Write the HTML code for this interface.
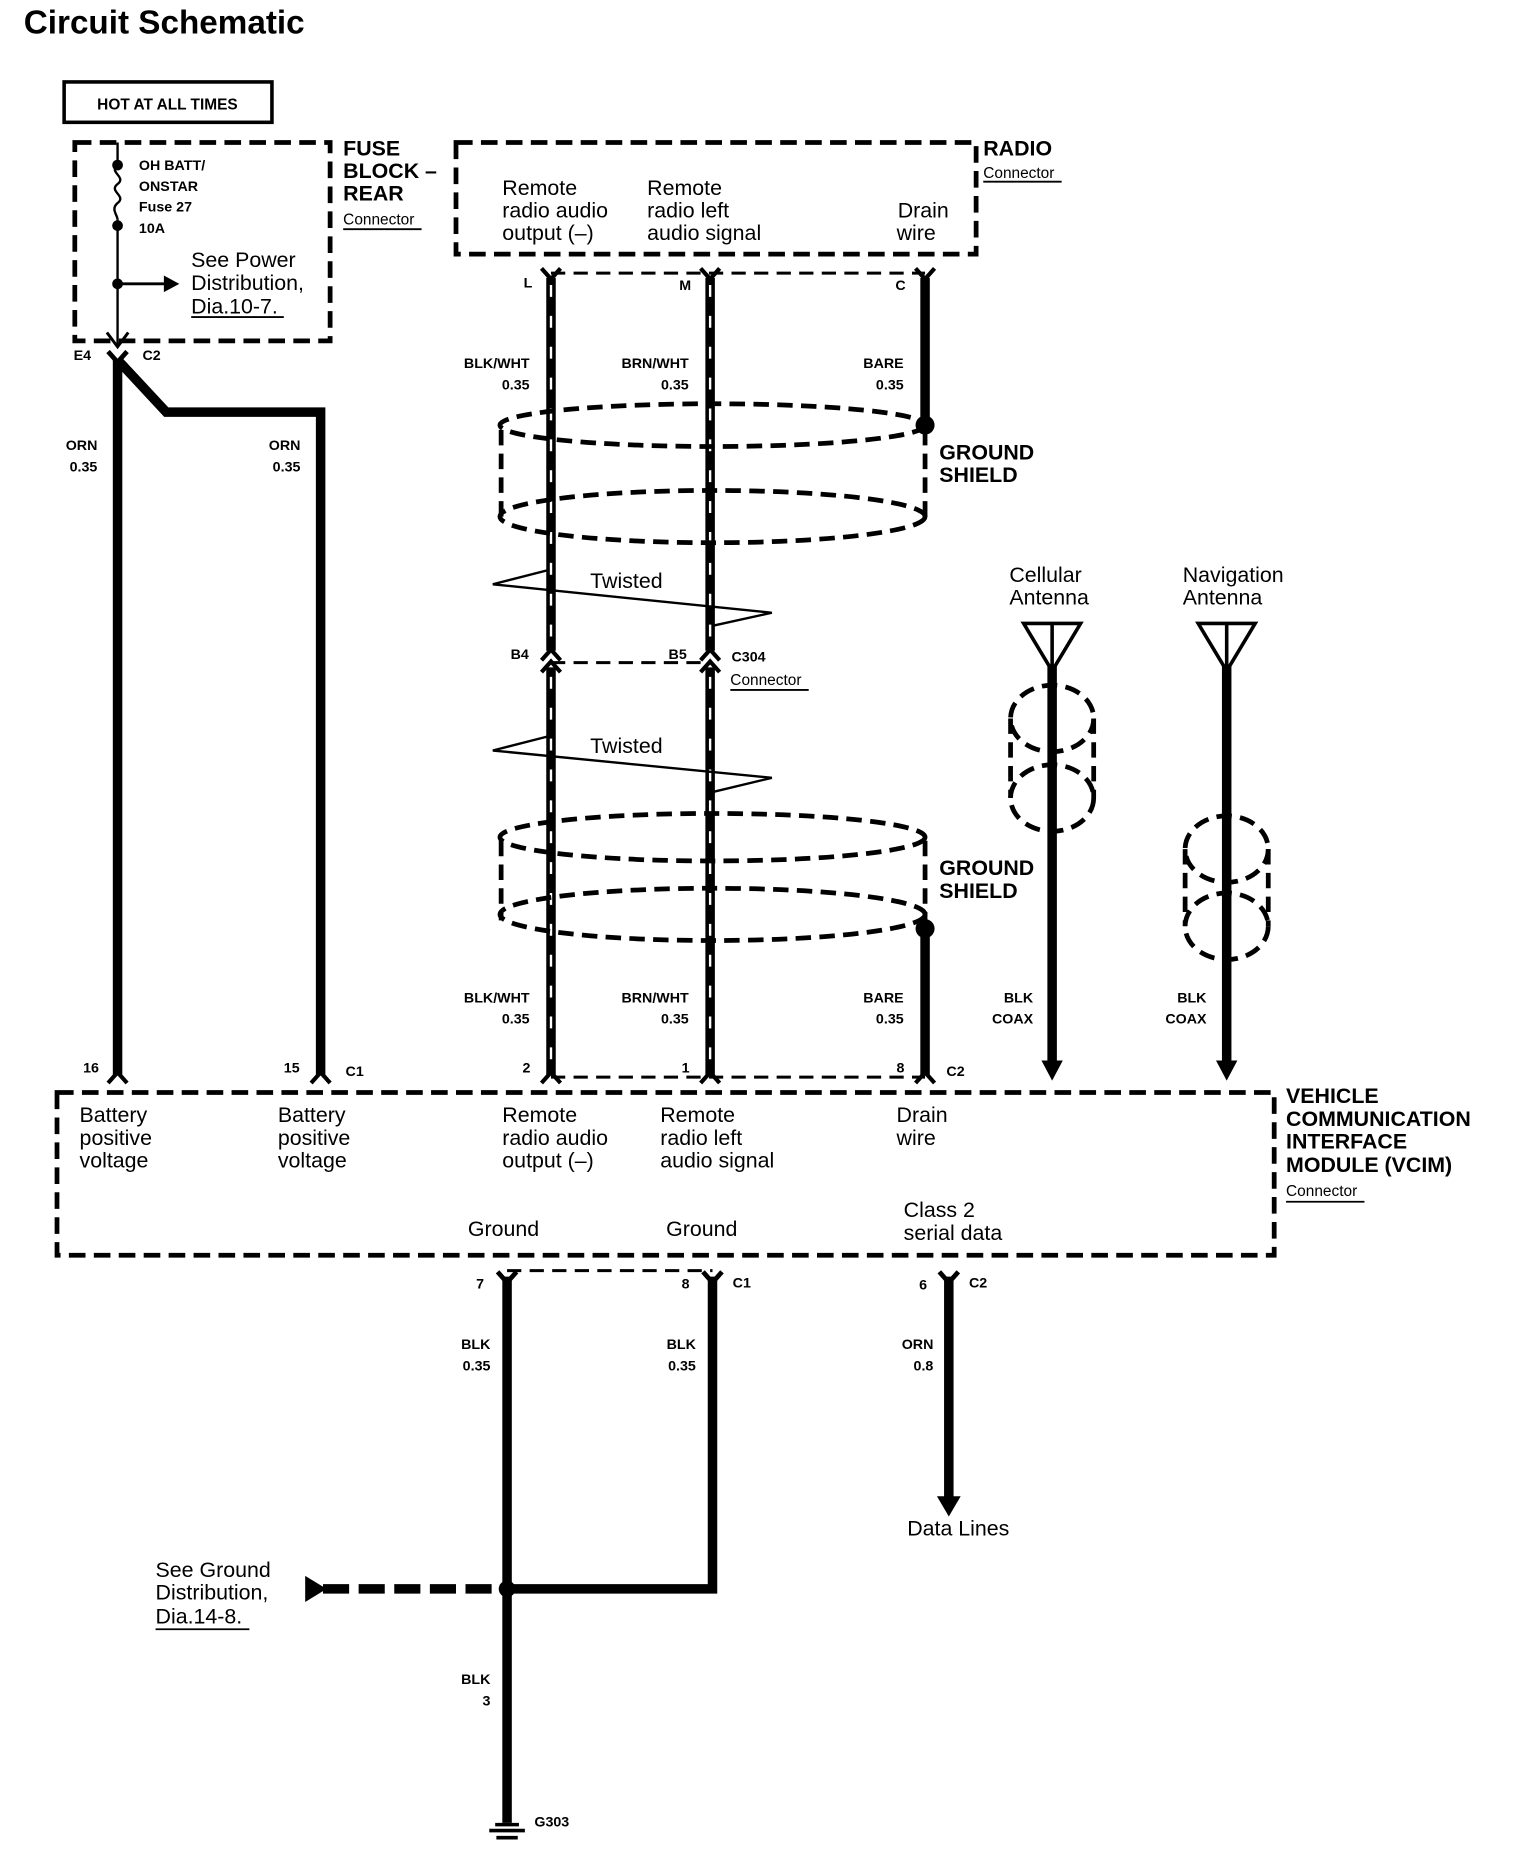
<!DOCTYPE html>
<html><head><meta charset="utf-8"><style>
html,body{margin:0;padding:0;background:#fff}
svg{display:block}
text{font-family:"Liberation Sans",Arial,sans-serif;fill:#000}
.b{font-weight:bold}
.s{font-size:12px;font-weight:bold}
.m{font-size:18px}
.h{font-size:18px;font-weight:bold}
.c{font-size:13px}
</style></head><body>
<svg width="1520" height="1858" viewBox="0 0 1280 1564.6" preserveAspectRatio="none" xmlns="http://www.w3.org/2000/svg">
<g fill="none" stroke="#000">
<text x="20" y="28" style="font-size:28px;font-weight:bold;stroke:none">Circuit Schematic</text>
<rect x="54" y="69" width="175" height="34" stroke-width="3"/>
<!-- fuse block -->
<rect x="63" y="120" width="215" height="167" stroke-width="4" stroke-dasharray="14 7"/>
<path d="M99 120V139M99 185V292" stroke-width="2"/>
<path d="M99 139c-8 6 8 10 0 16c-8 6 8 10 0 16c-6 5 0 10 0 14" stroke-width="2"/>
<path d="M99 239H140" stroke-width="2.5"/>
<path d="M90 280L99 292L108 280" stroke-width="2.5"/>
<!-- radio box -->
<rect x="384" y="120" width="438" height="94" stroke-width="4" stroke-dasharray="14 7"/>
<!-- vcim box -->
<rect x="48" y="920" width="1025" height="137" stroke-width="4" stroke-dasharray="14 7"/>
<!-- ORN wires -->
<path d="M99 303V905M99 303L140 347H270V905" stroke-width="8" stroke-linejoin="miter"/>
<!-- radio wires -->
<path d="M464 234V548M598 234V548M464 562V905M598 562V905" stroke-width="8"/>
<path d="M464 240V548M598 240V548M464 570V900M598 570V900" stroke="#fff" stroke-width="2" stroke-dasharray="10 16"/>
<path d="M779 234V358M779 782V905" stroke-width="8"/>
<path d="M464 230H779M464 558H598M464 907H779M427 1070H600" stroke-width="2.5" stroke-dasharray="12 7"/>
<!-- forks -->
<path d="M456 226L464 235L472 226M590 226L598 235L606 226M771 226L779 235L787 226" stroke-width="3.5"/>
<path d="M91 296L99 305L107 296" stroke-width="4"/>
<path d="M456 556L464 547L472 556M590 556L598 547L606 556M456 566L464 557L472 566M590 566L598 557L606 566" stroke-width="3.5"/>
<path d="M91 912L99 903L107 912M262 912L270 903L278 912M456 912L464 903L472 912M590 912L598 903L606 912M771 912L779 903L787 912" stroke-width="3.5"/>
<path d="M419 1071L427 1080L435 1071M592 1071L600 1080L608 1071M791 1071L799 1080L807 1071" stroke-width="4"/>
<!-- shields -->
<g stroke-width="4" stroke-dasharray="13 7">
<ellipse cx="600" cy="358" rx="179" ry="18"/>
<ellipse cx="600" cy="435" rx="179" ry="22"/>
<path d="M422 362V440M779 362V440"/>
<ellipse cx="600" cy="705" rx="179" ry="20"/>
<ellipse cx="600" cy="770" rx="179" ry="22"/>
<path d="M422 708V775M779 708V775"/>
<ellipse cx="886" cy="605" rx="35" ry="28"/>
<ellipse cx="886" cy="672" rx="35" ry="28"/>
<path d="M851 605V672M921 605V672"/>
<ellipse cx="1033" cy="715" rx="35" ry="28"/>
<ellipse cx="1033" cy="780" rx="35" ry="28"/>
<path d="M998 715V780M1068 715V780"/>
</g>
<!-- twisted -->
<path d="M462 480L415 492L650 516L600 527M462 620L415 632L650 655L600 667" stroke-width="2"/>
<!-- antennas -->
<path d="M886 560V895M1033 560V895" stroke-width="8"/>
<path d="M862 525H910L886 565Z M886 525V560M1009 525H1057L1033 565Z M1033 525V560" stroke-width="3" stroke-linejoin="miter"/>
<!-- bottom wires -->
<path d="M427 1075V1535M600 1075V1338H427M799 1075V1262" stroke-width="8"/>
<path d="M272 1338H420" stroke-width="8" stroke-dasharray="22 8"/>
<!-- underlines -->
<path d="M289 193H355M828 153H894M161 267H239M615 581H681M1083 1012H1149M131 1372H210" stroke-width="1.5"/>
</g>
<g fill="#000">
<circle cx="99" cy="139" r="4.5"/><circle cx="99" cy="190" r="4.5"/><circle cx="99" cy="239" r="4.5"/>
<path d="M138 232L151 239L138 246Z"/>
<circle cx="779" cy="358" r="8"/><circle cx="779" cy="782" r="8"/>
<circle cx="427" cy="1338" r="7"/>
<path d="M257 1327L275 1338L257 1349Z"/>
<path d="M877 893H895L886 910Z M1024 893H1042L1033 910Z M789 1260H809L799 1277Z"/>
<path d="M417 1535H437L437 1538H417Z M412 1540h30v3h-30z M418 1546h18v3h-18z"/>
</g>
<g>
<text x="141" y="92" text-anchor="middle" style="font-size:13px;font-weight:bold">HOT AT ALL TIMES</text>
<text class="s" x="117" y="143">OH  BATT/</text>
<text class="s" x="117" y="161">ONSTAR</text>
<text class="s" x="117" y="178">Fuse 27</text>
<text class="s" x="117" y="196">10A</text>
<text class="m" x="161" y="225">See Power</text>
<text class="m" x="161" y="244">Distribution,</text>
<text class="m" x="161" y="264">Dia.10-7.</text>
<text class="h" x="289" y="131">FUSE</text>
<text class="h" x="289" y="150">BLOCK –</text>
<text class="h" x="289" y="169">REAR</text>
<text class="c" x="289" y="189">Connector</text>
<text class="h" x="828" y="131">RADIO</text>
<text class="c" x="828" y="150">Connector</text>
<text class="m" x="423" y="164">Remote</text><text class="m" x="423" y="183">radio audio</text><text class="m" x="423" y="202">output (–)</text>
<text class="m" x="545" y="164">Remote</text><text class="m" x="545" y="183">radio left</text><text class="m" x="545" y="202">audio signal</text>
<text class="m" x="799" y="183" text-anchor="end">Drain</text><text class="m" x="788" y="202" text-anchor="end">wire</text>
<text class="s" x="62" y="303">E4</text><text class="s" x="120" y="303">C2</text>
<text class="s" x="441" y="242">L</text><text class="s" x="572" y="244">M</text><text class="s" x="754" y="244">C</text>
<g text-anchor="end" class="s">
<text x="82" y="379">ORN</text><text x="82" y="397">0.35</text>
<text x="253" y="379">ORN</text><text x="253" y="397">0.35</text>
<text x="446" y="310">BLK/WHT</text><text x="446" y="328">0.35</text>
<text x="580" y="310">BRN/WHT</text><text x="580" y="328">0.35</text>
<text x="761" y="310">BARE</text><text x="761" y="328">0.35</text>
<text x="446" y="844">BLK/WHT</text><text x="446" y="862">0.35</text>
<text x="580" y="844">BRN/WHT</text><text x="580" y="862">0.35</text>
<text x="761" y="844">BARE</text><text x="761" y="862">0.35</text>
<text x="870" y="844">BLK</text><text x="870" y="862">COAX</text>
<text x="1016" y="844">BLK</text><text x="1016" y="862">COAX</text>
<text x="413" y="1136">BLK</text><text x="413" y="1154">0.35</text>
<text x="586" y="1136">BLK</text><text x="586" y="1154">0.35</text>
<text x="786" y="1136">ORN</text><text x="786" y="1154">0.8</text>
<text x="413" y="1418">BLK</text><text x="413" y="1436">3</text>
</g>
<text class="h" x="791" y="387">GROUND</text><text class="h" x="791" y="406">SHIELD</text>
<text class="h" x="791" y="737">GROUND</text><text class="h" x="791" y="756">SHIELD</text>
<text class="m" x="497" y="495">Twisted</text>
<text class="m" x="497" y="634">Twisted</text>
<text class="s" x="430" y="555">B4</text><text class="s" x="563" y="555">B5</text><text class="s" x="616" y="557">C304</text>
<text class="c" x="615" y="577">Connector</text>
<text class="m" x="850" y="490">Cellular</text><text class="m" x="850" y="509">Antenna</text>
<text class="m" x="996" y="490">Navigation</text><text class="m" x="996" y="509">Antenna</text>
<text class="s" x="70" y="903">16</text><text class="s" x="239" y="903">15</text><text class="s" x="291" y="906">C1</text>
<text class="s" x="440" y="903">2</text><text class="s" x="574" y="903">1</text><text class="s" x="755" y="903">8</text><text class="s" x="797" y="906">C2</text>
<text class="m" x="67" y="945">Battery</text><text class="m" x="67" y="964">positive</text><text class="m" x="67" y="983">voltage</text>
<text class="m" x="234" y="945">Battery</text><text class="m" x="234" y="964">positive</text><text class="m" x="234" y="983">voltage</text>
<text class="m" x="423" y="945">Remote</text><text class="m" x="423" y="964">radio audio</text><text class="m" x="423" y="983">output (–)</text>
<text class="m" x="556" y="945">Remote</text><text class="m" x="556" y="964">radio left</text><text class="m" x="556" y="983">audio signal</text>
<text class="m" x="755" y="945">Drain</text><text class="m" x="755" y="964">wire</text>
<text class="m" x="394" y="1041">Ground</text><text class="m" x="561" y="1041">Ground</text>
<text class="m" x="761" y="1025">Class 2</text><text class="m" x="761" y="1044">serial data</text>
<text class="h" x="1083" y="929">VEHICLE</text><text class="h" x="1083" y="948">COMMUNICATION</text><text class="h" x="1083" y="967">INTERFACE</text><text class="h" x="1083" y="987">MODULE (VCIM)</text>
<text class="c" x="1083" y="1007">Connector</text>
<text class="s" x="401" y="1085">7</text><text class="s" x="574" y="1085">8</text><text class="s" x="617" y="1084">C1</text>
<text class="s" x="774" y="1086">6</text><text class="s" x="816" y="1084">C2</text>
<text class="m" x="764" y="1293">Data Lines</text>
<text class="m" x="131" y="1328">See Ground</text><text class="m" x="131" y="1347">Distribution,</text><text class="m" x="131" y="1367">Dia.14-8.</text>
<text class="s" x="450" y="1538">G303</text>
</g>
</svg>
</body></html>
